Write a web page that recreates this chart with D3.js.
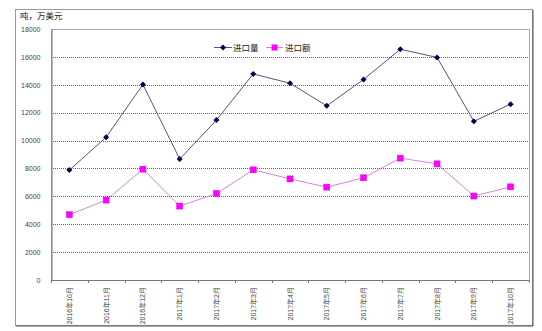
<!DOCTYPE html>
<html>
<head>
<meta charset="utf-8">
<script src="https://cdn.jsdelivr.net/npm/d3@7/dist/d3.min.js"></script>
<style>
  html, body { margin: 0; padding: 0; background: #fff; }
  svg { display: block; }
  text { font-family: "Liberation Sans", Arial, "Noto Sans CJK SC", sans-serif; }
</style>
</head>
<body>
<svg id="chart" width="542" height="331"></svg>
<script>
// Monthly import volume (吨) and import value (万美元)
const months = ["2016年10月","2016年11月","2016年12月","2017年1月","2017年2月","2017年3月",
                "2017年4月","2017年5月","2017年6月","2017年7月","2017年8月","2017年9月","2017年10月"];
const volume = [7880, 10240, 14020, 8670, 11470, 14780, 14110, 12490, 14380, 16550, 15960, 11380, 12610];
const amount = [4680, 5730, 7950, 5300, 6200, 7900, 7250, 6660, 7330, 8740, 8330, 6020, 6680];
const yTicks = [0, 2000, 4000, 6000, 8000, 10000, 12000, 14000, 16000, 18000];
const unitLabel = "吨，万美元";
const seriesNames = ["进口量", "进口额"];

const svg = d3.select("#chart");
const plot = { left: 51, right: 529, top: 29, bottom: 280 };

// Outer frame with a darker right/bottom edge
svg.append("rect").attr("x", 15.5).attr("y", 9.5).attr("width", 517).attr("height", 316)
  .attr("fill", "#fff").attr("stroke", "#9a9a9a");
svg.append("path").attr("d", "M533,10 V326 H16").attr("fill", "none").attr("stroke", "#555").attr("stroke-width", 1);

const x = d3.scaleBand().domain(months).range([plot.left, plot.right]).padding(0);
const y = d3.scaleLinear().domain([0, 18000]).range([plot.bottom, plot.top]);

// Dotted gridlines
svg.append("g").selectAll("line").data(yTicks.filter(t => t > 0 && t < 18000)).join("line")
  .attr("x1", plot.left).attr("x2", plot.right)
  .attr("y1", d => Math.round(y(d)) + 0.5).attr("y2", d => Math.round(y(d)) + 0.5)
  .attr("stroke", "#666").attr("stroke-dasharray", "1,1");

// Plot area frame
svg.append("rect").attr("x", plot.left + 0.5).attr("y", plot.top + 0.5)
  .attr("width", plot.right - plot.left).attr("height", plot.bottom - plot.top)
  .attr("fill", "none").attr("stroke", "#a8a8a8");

// Y axis
const yAxis = d3.axisLeft(y).tickValues(yTicks).tickSize(0).tickPadding(11).tickFormat(d3.format("d"));
const gy = svg.append("g").attr("transform", `translate(${plot.left + 0.5},0)`).call(yAxis);
gy.select(".domain").attr("stroke", "#777");
gy.selectAll("text").attr("font-size", 7).attr("fill", "#444")
  .attr("font-family", "'Liberation Sans', Arial, sans-serif");

// X axis: ticks at category boundaries, rotated labels
svg.append("line").attr("x1", plot.left).attr("x2", plot.right)
  .attr("y1", plot.bottom + 0.5).attr("y2", plot.bottom + 0.5).attr("stroke", "#777");
svg.append("g").selectAll("line").data(d3.range(months.length + 1)).join("line")
  .attr("x1", i => Math.round(plot.left + i * x.bandwidth()) + 0.5)
  .attr("x2", i => Math.round(plot.left + i * x.bandwidth()) + 0.5)
  .attr("y1", plot.bottom).attr("y2", plot.bottom + 3).attr("stroke", "#777");
svg.append("g").selectAll("text").data(months).join("text")
  .attr("transform", d => `translate(${x(d) + x.bandwidth() / 2 + 2.5},${plot.bottom + 7}) rotate(-90)`)
  .attr("text-anchor", "end").attr("font-size", 7).attr("fill", "#444")
  .text(d => d);

// Unit label
svg.append("text").attr("x", 20).attr("y", 19).attr("font-size", 8.5).attr("fill", "#222").text(unitLabel);

const cx = d => x(d) + x.bandwidth() / 2;
const line = d3.line().x((v, i) => cx(months[i])).y(v => y(v));

// Import value series (magenta squares)
svg.append("path").datum(amount).attr("d", line).attr("fill", "none")
  .attr("stroke", "#d685d6").attr("stroke-width", 1);
svg.append("g").selectAll("rect").data(amount).join("rect")
  .attr("x", (v, i) => cx(months[i]) - 3).attr("y", v => y(v) - 3)
  .attr("width", 6).attr("height", 6).attr("fill", "#ff00ff").attr("stroke", "#dd00dd").attr("stroke-width", 0.5);

// Import volume series (navy diamonds)
svg.append("path").datum(volume).attr("d", line).attr("fill", "none")
  .attr("stroke", "#55557f").attr("stroke-width", 1);
const diamond = "M0,-3L3,0L0,3L-3,0Z";
svg.append("g").selectAll("path").data(volume).join("path")
  .attr("transform", (v, i) => `translate(${cx(months[i])},${y(v)})`)
  .attr("d", diamond).attr("fill", "#000055");

// Legend
const legend = svg.append("g");
const lx = [214, 266];
const ly = 47;
legend.append("line").attr("x1", lx[0]).attr("x2", lx[0] + 18).attr("y1", ly + 0.5).attr("y2", ly + 0.5).attr("stroke", "#55557f");
legend.append("path").attr("transform", `translate(${lx[0] + 9},${ly + 0.5})`).attr("d", diamond).attr("fill", "#000055");
legend.append("text").attr("x", lx[0] + 19).attr("y", ly + 3.5).attr("font-size", 8.5).attr("fill", "#222").text(seriesNames[0]);
legend.append("line").attr("x1", lx[1]).attr("x2", lx[1] + 17).attr("y1", ly + 0.5).attr("y2", ly + 0.5).attr("stroke", "#d685d6");
legend.append("rect").attr("x", lx[1] + 5.5).attr("y", ly - 2.5).attr("width", 6).attr("height", 6).attr("fill", "#ff00ff");
legend.append("text").attr("x", lx[1] + 19).attr("y", ly + 3.5).attr("font-size", 8.5).attr("fill", "#222").text(seriesNames[1]);
</script>
</body>
</html>
